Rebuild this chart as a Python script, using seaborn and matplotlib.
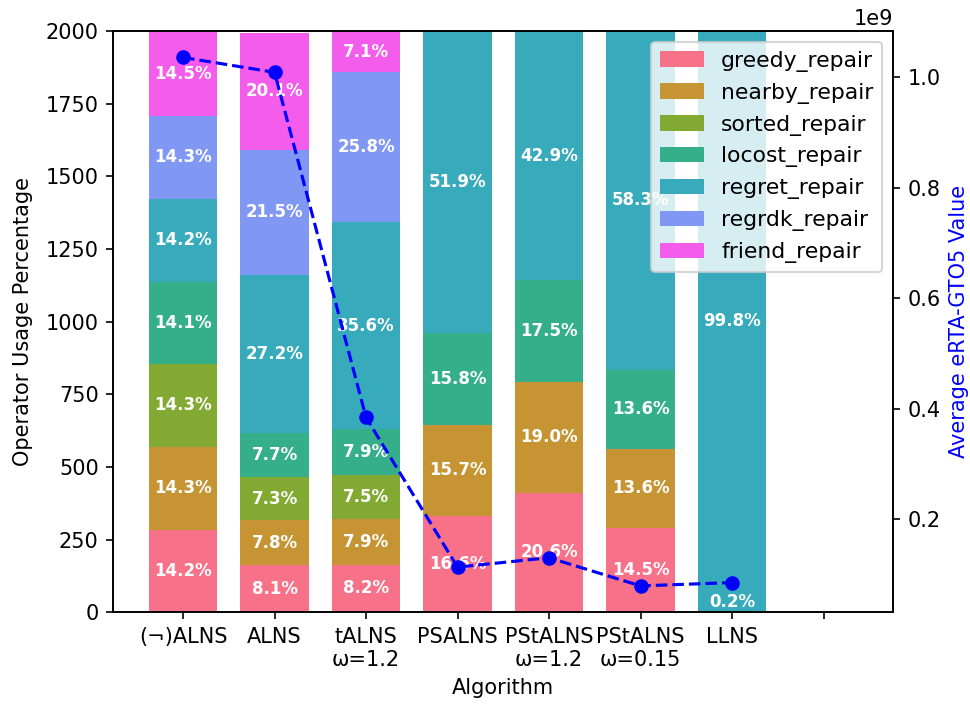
import numpy as np
import pandas as pd
import matplotlib
matplotlib.use("Agg")
import matplotlib.pyplot as plt
from matplotlib.patches import Patch
import seaborn as sns

# Algorithms (the last slot is an empty category)
algorithms = ["(¬)ALNS", "ALNS", "tALNS\nω=1.2", "PSALNS", "PStALNS\nω=1.2",
              "PStALNS\nω=0.15", "LLNS", ""]

operators = ["greedy_repair", "nearby_repair", "sorted_repair", "locost_repair",
             "regret_repair", "regrdk_repair", "friend_repair"]

# Usage share of each repair operator (%)
greedy_repair = [14.2, 8.1, 8.2, 16.6, 20.6, 14.5, 0.0, 0.0]
nearby_repair = [14.3, 7.8, 7.9, 15.7, 19.0, 13.6, 0.0, 0.0]
sorted_repair = [14.3, 7.3, 7.5, 0.0, 0.0, 0.0, 0.0, 0.0]
locost_repair = [14.1, 7.7, 7.9, 15.8, 17.5, 13.6, 0.2, 0.0]
regret_repair = [14.2, 27.2, 35.6, 51.9, 42.9, 58.3, 99.8, 0.0]
regrdk_repair = [14.3, 21.5, 25.8, 0.0, 0.0, 0.0, 0.0, 0.0]
friend_repair = [14.5, 20.1, 7.1, 0.0, 0.0, 0.0, 0.0, 0.0]

# Total number of operator calls per run
total_calls = 2000

# Average eRTA-GTO5 value per algorithm
erta_values = [1.036e9, 1.009e9, 0.384e9, 0.113e9, 0.130e9, 0.079e9, 0.085e9]

shares = [greedy_repair, nearby_repair, sorted_repair, locost_repair,
          regret_repair, regrdk_repair, friend_repair]
counts = np.array(shares) / 100.0 * total_calls
tops = np.cumsum(counts, axis=0)
bottoms = tops - counts

colors = sns.color_palette("husl", len(operators))

fig = plt.figure(figsize=(970 / 150, 711 / 150), dpi=150)
ax = fig.add_axes([0.1168, 0.1388, 0.9209 - 0.1168, 0.9564 - 0.1388])

# Stacked bars: draw cumulative heights from the top layer down
for k in range(len(operators) - 1, -1, -1):
    df = pd.DataFrame({"Algorithm": algorithms, "value": tops[k]})
    sns.barplot(data=df, x="Algorithm", y="value", order=algorithms,
                color=colors[k], saturation=1, width=0.75, errorbar=None,
                linewidth=0, edgecolor="none", ax=ax)

# Percentage labels in the middle of each segment
for k in range(len(operators)):
    for i in range(len(algorithms)):
        pct = shares[k][i]
        if pct <= 0:
            continue
        mid = bottoms[k][i] + counts[k][i] / 2
        ax.text(i, max(mid, 36), f"{pct:.1f}%", ha="center", va="center",
                color="white", fontsize=8, fontweight="bold")

ax.set_ylim(0, 2000)
ax.set_xlim(-0.7625, 7.7625)
ax.set_xlabel("Algorithm")
ax.set_ylabel("Operator Usage Percentage")
ax.yaxis.labelpad = 6

handles = [Patch(facecolor=colors[k], label=operators[k]) for k in range(len(operators))]
ax.legend(handles=handles, loc="upper right", fontsize=10.5)

# Secondary axis with the eRTA-GTO5 line
ax2 = ax.twinx()
sns.lineplot(x=np.arange(len(erta_values)), y=erta_values, ax=ax2, color="blue",
             linestyle="--", marker="o", markersize=6, markeredgecolor="blue",
             markeredgewidth=1, linewidth=1.5)
ax2.set_ylabel("Average eRTA-GTO5 Value", color="blue")

fig.savefig("out.png", dpi=150)
